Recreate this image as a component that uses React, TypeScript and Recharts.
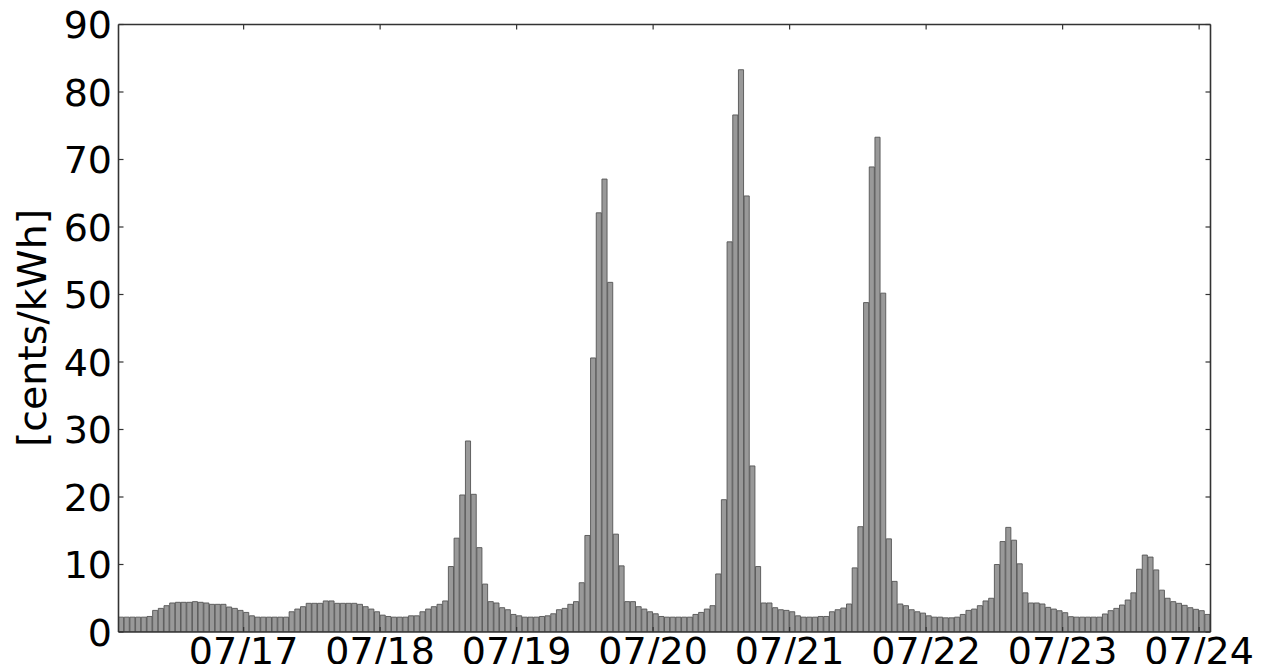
import React from "react";
import { BarChart, Bar, XAxis, YAxis } from "recharts";

// Hourly price [cents/kWh]; first day starts at 02:00, last day ends after 01:00
const day16 = [2.2, 2.2, 2.2, 2.2, 2.2, 2.3, 3.2, 3.5, 3.9, 4.3, 4.4, 4.4, 4.4, 4.5, 4.4, 4.3, 4.1, 4.1, 4.1, 3.7, 3.5, 3.2];
const day17 = [2.9, 2.4, 2.2, 2.2, 2.2, 2.2, 2.2, 2.2, 3.0, 3.4, 3.75, 4.25, 4.25, 4.25, 4.6, 4.6, 4.25, 4.25, 4.25, 4.25, 4.1, 3.75, 3.4, 3.0];
const day18 = [2.5, 2.3, 2.2, 2.2, 2.2, 2.4, 2.4, 3.0, 3.4, 3.75, 4.1, 4.6, 9.7, 13.9, 20.3, 28.3, 20.4, 12.5, 7.1, 4.5, 4.3, 3.6, 3.3, 2.6];
const day19 = [2.4, 2.2, 2.2, 2.2, 2.3, 2.4, 2.7, 3.3, 3.5, 4.1, 4.5, 7.3, 14.3, 40.6, 62.1, 67.1, 51.8, 14.5, 9.8, 4.5, 4.5, 3.75, 3.4, 3.0];
const day20 = [2.7, 2.3, 2.2, 2.2, 2.2, 2.2, 2.2, 2.6, 2.9, 3.4, 3.9, 8.6, 19.6, 57.8, 76.6, 83.3, 64.6, 24.6, 9.7, 4.3, 4.3, 3.6, 3.3, 3.2];
const day21 = [3.0, 2.4, 2.2, 2.2, 2.2, 2.3, 2.3, 3.0, 3.3, 3.55, 4.15, 9.5, 15.6, 48.8, 68.9, 73.3, 50.2, 13.8, 7.5, 4.15, 3.9, 3.3, 3.0, 2.8];
const day22 = [2.4, 2.2, 2.2, 2.1, 2.1, 2.2, 2.6, 3.2, 3.4, 3.9, 4.6, 5.0, 10.0, 13.4, 15.5, 13.6, 10.1, 5.8, 4.3, 4.3, 4.15, 3.65, 3.4, 3.15];
const day23 = [2.86, 2.27, 2.2, 2.2, 2.2, 2.2, 2.2, 2.67, 3.16, 3.5, 4.0, 4.74, 5.8, 9.3, 11.4, 11.1, 9.2, 6.2, 5.0, 4.5, 4.25, 3.95, 3.6, 3.36];
const day24 = [3.16, 2.6];

const dayLabels = ["07/16", "07/17", "07/18", "07/19", "07/20", "07/21", "07/22", "07/23", "07/24"];
const dayValues = [day16, day17, day18, day19, day20, day21, day22, day23, day24];
const tickLabels = ["07/17", "07/18", "07/19", "07/20", "07/21", "07/22", "07/23", "07/24"];
const yTicks = [0, 10, 20, 30, 40, 50, 60, 70, 80, 90];
const yLabel = "[cents/kWh]";

// Build table: one row per hour, x = bar centre in hour units from the first bar's left edge
const rows: { x: number; price: number }[] = [];
const dayStart: Record<string, number> = {};
let idx = 0;
dayValues.forEach((vals, d) => {
  const firstHour = d === 0 ? 2 : 0;
  dayStart[dayLabels[d]] = idx - firstHour;
  vals.forEach((v) => {
    rows.push({ x: idx + 0.5, price: v });
    idx += 1;
  });
});
const TOTAL = idx;
const tickPositions = tickLabels.map((l) => dayStart[l]);
const labelAt: Record<number, string> = {};
tickLabels.forEach((l, i) => (labelAt[tickPositions[i]] = l));

const W = 1253;
const H = 656;
const FONT = "'DejaVu Sans', sans-serif";
const FRAME = "#333";
const TICK_LEN = 5;
const PLOT_W = 1092;
const BAR_W = PLOT_W / TOTAL;

const XTick = (props: any) => {
  const { x, y, payload } = props;
  return (
    <g>
      <line x1={x} x2={x} y1={y} y2={y - TICK_LEN} stroke={FRAME} strokeWidth={1.2} />
      <text x={x} y={y + 32} textAnchor="middle" fontSize={38} fontFamily={FONT} fill="#000">
        {labelAt[payload.value]}
      </text>
    </g>
  );
};

const TopTick = (props: any) => {
  const { x, y } = props;
  return <line x1={x} x2={x} y1={y} y2={y + TICK_LEN} stroke={FRAME} strokeWidth={1.2} />;
};

const LeftTick = (props: any) => {
  const { x, y, payload } = props;
  return (
    <g>
      <line x1={x} x2={x + TICK_LEN} y1={y} y2={y} stroke={FRAME} strokeWidth={1.2} />
      <text x={x - 6.5} y={y} dy="0.36em" textAnchor="end" fontSize={38} fontFamily={FONT} fill="#000">
        {payload.value}
      </text>
    </g>
  );
};

const RightTick = (props: any) => {
  const { x, y } = props;
  return <line x1={x} x2={x - TICK_LEN} y1={y} y2={y} stroke={FRAME} strokeWidth={1.2} />;
};

const YLabel = () => (
  <text
    x={24}
    y={320}
    transform="rotate(-90 24 320)"
    textAnchor="middle"
    dominantBaseline="central"
    fontSize={39.5}
    fontFamily={FONT}
    fill="#000"
  >
    {yLabel}
  </text>
);

export default function App() {
  return (
    <div style={{ width: W, height: H }}>
      <style>{`.recharts-surface{overflow:visible}`}</style>
      <BarChart
        width={W}
        height={H}
        data={rows}
        margin={{ top: 15.5, right: 49.5, bottom: 0, left: 0 }}
        barCategoryGap={0}
        barGap={0}
      >
        <XAxis
          xAxisId="bottom"
          type="number"
          dataKey="x"
          domain={[0, TOTAL]}
          ticks={tickPositions}
          interval={0}
          allowDataOverflow
          height={32}
          tickLine={false}
          tickSize={0}
          tickMargin={0}
          axisLine={{ stroke: FRAME, strokeWidth: 1.6 }}
          tick={XTick}
        />
        <XAxis
          xAxisId="top"
          orientation="top"
          type="number"
          dataKey="x"
          domain={[0, TOTAL]}
          ticks={tickPositions}
          interval={0}
          allowDataOverflow
          height={1}
          tickLine={false}
          tickSize={0}
          tickMargin={0}
          axisLine={{ stroke: FRAME, strokeWidth: 1.6 }}
          tick={TopTick}
        />
        <YAxis
          yAxisId="left"
          type="number"
          domain={[0, 90]}
          ticks={yTicks}
          interval={0}
          allowDataOverflow
          width={110.5}
          tickLine={false}
          tickSize={0}
          tickMargin={0}
          axisLine={{ stroke: FRAME, strokeWidth: 1.6 }}
          tick={LeftTick}
          label={<YLabel />}
        />
        <YAxis
          yAxisId="right"
          orientation="right"
          type="number"
          domain={[0, 90]}
          ticks={yTicks}
          interval={0}
          allowDataOverflow
          width={1}
          tickLine={false}
          tickSize={0}
          tickMargin={0}
          axisLine={{ stroke: FRAME, strokeWidth: 1.6 }}
          tick={RightTick}
        />
        <Bar
          dataKey="price"
          xAxisId="bottom"
          yAxisId="left"
          fill="#999999"
          stroke="#555555"
          strokeWidth={0.9}
          barSize={BAR_W}
          isAnimationActive={false}
        />
      </BarChart>
    </div>
  );
}
